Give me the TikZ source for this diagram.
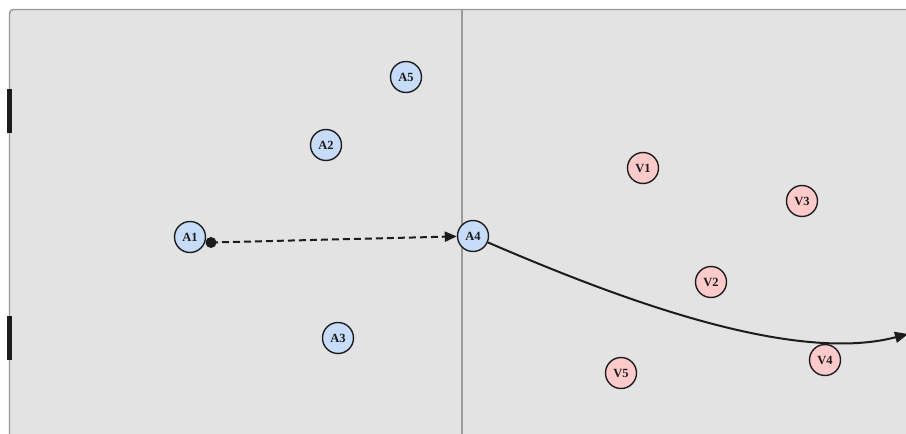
\documentclass[tikz,border=0pt]{standalone}
\usepackage{fontspec}
\newfontfamily\playerfont{Liberation Serif}
\usetikzlibrary{positioning, arrows.meta}

\definecolor{pitch}{HTML}{E3E3E3}
\definecolor{pitchline}{HTML}{9A9A9A}
\definecolor{attack}{HTML}{C6DCF8}
\definecolor{defend}{HTML}{FFCACA}
\definecolor{ink}{HTML}{1C1C1C}

\begin{document}
\begin{tikzpicture}[
        x=1pt, y=-1pt,
        player/.style={circle, draw=ink, line width=1.4pt, minimum size=31pt, inner sep=0pt,
          font=\playerfont\bfseries\fontsize{12.5}{12.5}\selectfont, text=ink},
        att/.style={player, fill=attack},
        def/.style={player, fill=defend},
        pass/.style={draw=ink, line width=2pt, dash pattern=on 7pt off 4pt, -{Triangle[length=12pt,width=10pt]}},
        run/.style={draw=ink, line width=2pt, -{Triangle[length=13pt,width=11pt]}}
      ]

      \clip (0,0) rectangle (906,434);
      \fill[white] (0,0) rectangle (906,434);
      \draw[pitchline, fill=pitch, line width=1.4pt, rounded corners=4pt] (9.5,9.5) rectangle (915,445);
      \draw[pitchline, line width=1.4pt] (462,9.5) -- (462,445);
      \fill[ink] (6.5,89) rectangle (11.5,133);
      \fill[ink] (6.5,316) rectangle (11.5,360);

      \node[att] (A1) at (190,237) {A1};
      \node[att] (A2) at (326,145) {A2};
      \node[att] (A3) at (338,338) {A3};
      \node[att] (A4) at (473,236) {A4};
      \node[att] (A5) at (406,77) {A5};

      \node[def] (V1) at (643,168) {V1};
      \node[def] (V2) at (711,282) {V2};
      \node[def] (V3) at (802,201) {V3};
      \node[def] (V4) at (825,360) {V4};
      \node[def] (V5) at (621,373) {V5};

      \coordinate (kick) at (211,242.5);
      \coordinate (goal) at (908,334);

      \fill[ink] (kick) circle (5.5pt);
      \draw[pass] (kick) -- (A4);
      \draw[run] (A4) .. controls (610,295) and (790,365) .. (goal);
\end{tikzpicture}
\end{document}
